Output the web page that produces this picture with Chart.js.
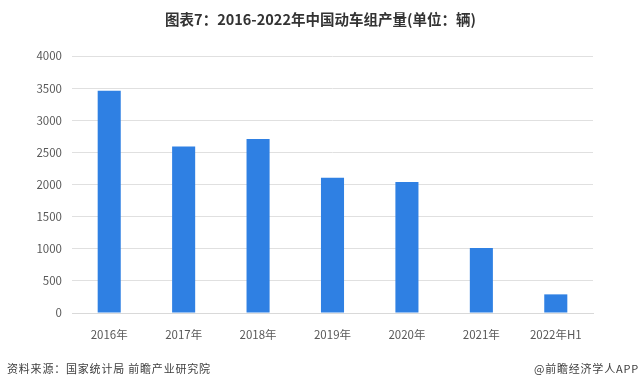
<!DOCTYPE html>
<html>
<head>
<meta charset="utf-8">
<script src="https://cdn.jsdelivr.net/npm/chart.js@4"></script>
<style>
  html, body { margin: 0; padding: 0; background: #fff; }
  #wrap { position: relative; width: 641px; height: 387px; overflow: hidden; }
  #chart { position: absolute; left: 0; top: 0; }
  .title {
    position: absolute; left: 0; width: 641px; top: 8px; text-align: center;
    font: bold 14.5px "Noto Sans CJK SC", sans-serif; color: #333;
  }
  .src {
    position: absolute; left: 7px; top: 360px;
    font: 11px "Noto Sans CJK SC", sans-serif; color: #404040; letter-spacing: 0.8px;
  }
  .brand {
    position: absolute; right: 2px; top: 360px;
    font: 11px "Noto Sans CJK SC", sans-serif; color: #404040; letter-spacing: 0.8px;
  }
</style>
</head>
<body>
<div id="wrap">
  <canvas id="chart" width="641" height="387"></canvas>
  <div class="title">图表7：2016-2022年中国动车组产量(单位：辆)</div>
  <div class="src">资料来源：国家统计局 前瞻产业研究院</div>
  <div class="brand">@前瞻经济学人APP</div>
</div>
<script>
const YEARS = ['2016年', '2017年', '2018年', '2019年', '2020年', '2021年', '2022年H1'];
const OUTPUT = [3460, 2590, 2710, 2105, 2040, 1012, 290];
const Y_MAX = 4000;
const Y_STEP = 500;

const FONT = '"Noto Sans CJK SC", sans-serif';

// ── Chart ─────────────────────────────────────────────
const ctx = document.getElementById('chart').getContext('2d');
new Chart(ctx, {
  type: 'bar',
  data: {
    labels: YEARS,
    datasets: [{
      data: OUTPUT,
      backgroundColor: '#2f80e3',
      borderWidth: 0,
      barPercentage: 0.31,
      categoryPercentage: 1,
    }],
  },
  options: {
    responsive: false,
    animation: false,
    layout: { padding: { top: 56, right: 48, left: 0, bottom: 0 } },
    plugins: { legend: { display: false }, tooltip: { enabled: false } },
    scales: {
      x: {
        grid: { display: false },
        border: { display: true, color: '#d9d9d9', width: 1 },
        ticks: { color: '#595959', font: { family: FONT, size: 11.5 }, padding: 7, maxRotation: 0 },
        afterFit: s => { s.height = 74; },
      },
      y: {
        min: 0, max: Y_MAX,
        grid: { color: '#e0e0e0', drawTicks: false },
        border: { display: false },
        ticks: {
          stepSize: Y_STEP, color: '#595959', font: { family: FONT, size: 11.5 }, padding: 10,
          callback: v => String(v),
        },
        afterFit: s => { s.width = 72; },
      },
    },
  },
});
</script>
</body>
</html>
